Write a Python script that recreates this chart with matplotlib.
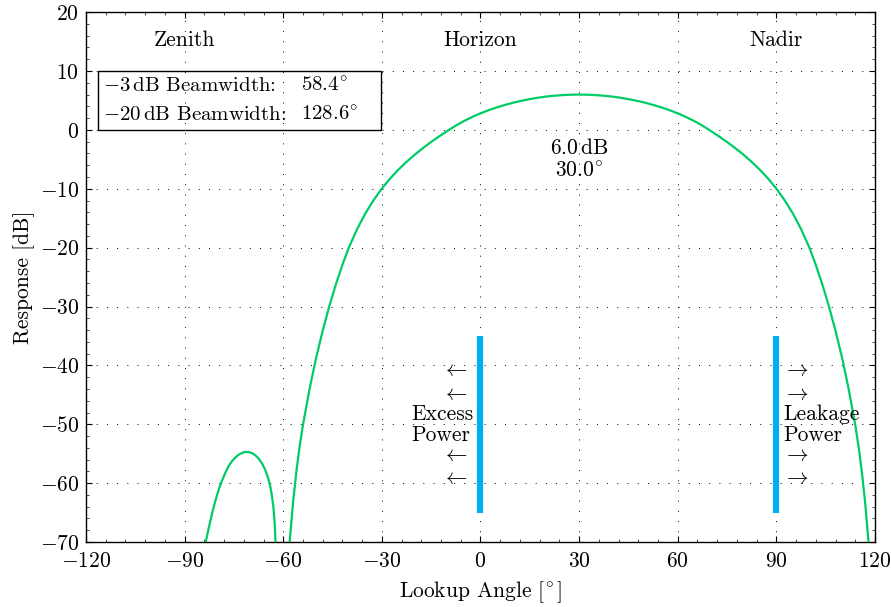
import matplotlib
matplotlib.use("Agg")
import matplotlib.pyplot as plt
from matplotlib.patches import Rectangle
from matplotlib.ticker import MultipleLocator

plt.rcParams['font.family'] = 'cmr10'
plt.rcParams['mathtext.fontset'] = 'cm'
plt.rcParams['axes.formatter.use_mathtext'] = True
plt.rcParams['font.size'] = 15.5

# main lobe (angle in degrees, response in dB)
main_angle = [-58.1, -58, -57, -56, -55, -54, -52, -50, -48, -46,
              -44, -42, -40, -37.5, -35, -32.5, -30, -27.5, -25, -22.5,
              -20, -17.5, -15, -12.5, -10, -7.5, -5, -2.5, 0, 2.5,
              5, 7.5, 10, 12.5, 15, 17.5, 20, 22.5, 25, 27.5, 30,
              32.5, 35, 37.5, 40, 42.5, 45, 47.5, 50, 52.5, 55,
              57.5, 60, 62.5, 65, 67.5, 70, 72.5, 75, 77.5, 80,
              82.5, 85, 87.5, 90, 92.5, 95, 97.5, 100, 102, 104,
              106, 108, 110, 112, 114, 115, 116, 117, 118, 118.1]
main_db = [-70, -69.72, -63.22, -58.02, -53.72, -50.12, -44.02, -38.72, -34.12, -29.97,
           -26.27, -22.92, -19.92, -16.82, -14.17, -11.92, -9.97, -8.27, -6.77, -5.43,
           -4.21, -3.09, -2.05, -1.08, -0.16, 0.73, 1.51, 2.2, 2.81, 3.35,
           3.83, 4.25, 4.63, 4.95, 5.23, 5.47, 5.66, 5.81, 5.91, 5.98, 6.0,
           5.98, 5.91, 5.81, 5.66, 5.47, 5.23, 4.95, 4.63, 4.25, 3.83,
           3.35, 2.81, 2.2, 1.51, 0.73, -0.16, -1.08, -2.05, -3.09, -4.21,
           -5.43, -6.77, -8.27, -9.97, -11.92, -14.17, -16.82, -19.92, -22.92, -26.27,
           -29.97, -34.12, -38.72, -44.02, -50.12, -53.72, -58.02, -63.22, -69.72, -70]

# side lobe
side_angle = [-83.6, -83.5, -82.5, -81.5, -80.5, -79.5, -78.5, -77.5, -76.5,
              -75.5, -74.5, -73.5, -72.5, -71.5, -70.5, -69.5, -68.5, -67.5,
              -66.5, -65.5, -64.5, -64.0, -63.5, -63.0, -62.7, -62.5, -62.35]
side_db = [-70, -69.8, -67.2, -64.8, -62.7, -60.9, -59.4, -58.1, -57.0,
           -56.2, -55.6, -55.15, -54.85, -54.7, -54.72, -54.9, -55.25, -55.8,
           -56.6, -57.7, -59.3, -60.4, -61.9, -64.0, -66.0, -68.0, -70]

# power limits
limit_angle = [0, 90]
limit_top = -35
limit_bottom = -65

peak_db = 6.0
peak_angle = 30.0
bw3 = 58.4
bw20 = 128.6

fig = plt.figure(figsize=(8.91, 6.07), dpi=100)
ax = fig.add_axes([0.0965, 0.107, 0.8855, 0.873])

ax.plot(main_angle, main_db, color='#00CC66', lw=1.6, zorder=3,
        solid_joinstyle='round')
ax.plot(side_angle, side_db, color='#00CC66', lw=1.6, zorder=3,
        solid_joinstyle='round')
for a in limit_angle:
    ax.plot([a, a], [limit_bottom, limit_top], color='#00AEEF', lw=4.5,
            solid_capstyle='butt', zorder=4)

ax.set_xlim(-120, 120)
ax.set_ylim(-70, 20)
ax.xaxis.set_major_locator(MultipleLocator(30))
ax.yaxis.set_major_locator(MultipleLocator(10))
ax.xaxis.set_minor_locator(MultipleLocator(6))
ax.yaxis.set_minor_locator(MultipleLocator(2))
ax.tick_params(which='both', direction='in', top=True, right=True)
ax.tick_params(which='major', length=4, width=0.8)
ax.tick_params(which='minor', length=2, width=0.5)
ax.tick_params(axis='x', which='major', pad=7)
ax.tick_params(axis='y', which='major', pad=5)
ax.grid(True, which='major', color='black', lw=0.7, linestyle=(0, (1, 9.5)))
for s in ax.spines.values():
    s.set_linewidth(1.0)

ax.set_xlabel(r'Lookup Angle $[^{\!\circ}]$', labelpad=6)
ax.set_ylabel('Response [dB]', labelpad=3)

for a, name in zip([-90, 0, 90], ['Zenith', 'Horizon', 'Nadir']):
    ax.text(a, 15.2, name, ha='center', va='center')

# beamwidth box
ax.add_patch(Rectangle((-116.3, 0), 86, 10, fill=False, ec='black', lw=1.0,
                       zorder=5))
ax.text(-114.8, 7.45, r'$-3\,$dB Beamwidth:', va='center', zorder=6,
        fontsize=15)
ax.text(-114.8, 2.5, r'$-20\,$dB Beamwidth:', va='center', zorder=6,
        fontsize=15)
ax.text(-54.5, 7.45, r'$%.1f^{\!\circ}$' % bw3, va='center', zorder=6,
        fontsize=15)
ax.text(-54.5, 2.5, r'$%.1f^{\!\circ}$' % bw20, va='center', zorder=6,
        fontsize=15)

ax.text(peak_angle, -5, '%.1f$\\,$dB\n$%.1f^{\\!\\circ}$' % (peak_db, peak_angle),
        ha='center', va='center', linespacing=1.2)

# excess / leakage annotations
for y in [-40.8, -44.9, -55.3, -59.2]:
    ax.text(-3.8, y, r'$\leftarrow$', ha='right', va='center')
    ax.text(92.0, y, r'$\rightarrow$', ha='left', va='center')
ax.text(-21.1, -50.1, 'Excess\nPower', ha='left', va='center',
        linespacing=1.05)
ax.text(92.0, -50.1, 'Leakage\nPower', ha='left', va='center',
        linespacing=1.05)

fig.savefig('out.png', dpi=100)
